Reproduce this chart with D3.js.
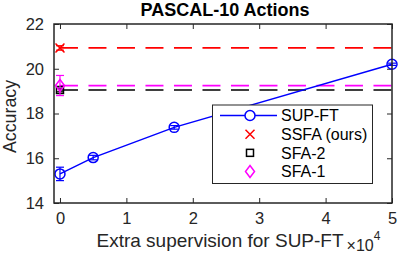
<!DOCTYPE html>
<html>
<head>
<meta charset="utf-8">
<script src="https://cdn.jsdelivr.net/npm/d3@7/dist/d3.min.js"></script>
<style>
  body { margin: 0; background: #fff; }
  text { font-family: "Liberation Sans", Arial, sans-serif; }
</style>
</head>
<body>
<svg id="chart" width="399" height="258"></svg>
<script>
// data
var supX = [0, 0.5, 1.72, 5];
var supY = [15.3, 16.03, 17.38, 20.2];
var supErr = [0.3, 0.1, 0.08, 0.05];
var ssfa = 20.93, ssfaErr = 0.1;
var sfa2 = 19.05, sfa2Err = 0.08;
var sfa1 = 19.25, sfa1Err = 0.45;
var xTicks = [0, 1, 2, 3, 4, 5];
var yTicks = [14, 16, 18, 20, 22];
var legendNames = ["SUP-FT", "SSFA (ours)", "SFA-2", "SFA-1"];

var svg = d3.select("#chart");
var pLeft = 54, pTop = 24, pRight = 392, pBottom = 203;

var x = d3.scaleLinear().domain([-0.09, 5]).range([pLeft, pRight]);
var y = d3.scaleLinear().domain([14, 22]).range([pBottom, pTop]);

// axes with inward ticks, box on
var tickLen = 5;
var fmt = d3.format("d");
svg.append("g").attr("transform", "translate(0," + pBottom + ")")
  .call(d3.axisBottom(x).tickValues(xTicks).tickFormat(fmt).tickSizeInner(-tickLen).tickSizeOuter(0).tickPadding(9.5))
  .call(function(g){ g.select(".domain").remove(); });
svg.append("g").attr("transform", "translate(0," + pTop + ")")
  .call(d3.axisTop(x).tickValues(xTicks).tickSizeInner(-tickLen).tickSizeOuter(0).tickFormat(""))
  .call(function(g){ g.select(".domain").remove(); });
svg.append("g").attr("transform", "translate(" + pLeft + ",0)")
  .call(d3.axisLeft(y).tickValues(yTicks).tickFormat(fmt).tickSizeInner(-tickLen).tickSizeOuter(0).tickPadding(10))
  .call(function(g){ g.select(".domain").remove(); });
svg.append("g").attr("transform", "translate(" + pRight + ",0)")
  .call(d3.axisRight(y).tickValues(yTicks).tickSizeInner(-tickLen).tickSizeOuter(0).tickFormat(""))
  .call(function(g){ g.select(".domain").remove(); });
svg.selectAll(".tick text").style("font-size", "16.5px").style("font-family", "'Liberation Sans', Arial, sans-serif").attr("fill", "#262626");
svg.selectAll(".tick line").attr("stroke", "#262626");

// dashed reference lines
function hline(v, color) {
  svg.append("line").attr("x1", x(0)).attr("x2", x(5))
    .attr("y1", y(v)).attr("y2", y(v))
    .attr("stroke", color).attr("stroke-width", 1.7).attr("stroke-dasharray", "18,10.5");
}
hline(ssfa, "#ff0000");
hline(sfa2, "#000000");
hline(sfa1, "#ff00ff");

function errbar(xv, yv, e, color) {
  var cx = x(xv);
  svg.append("line").attr("x1", cx).attr("x2", cx).attr("y1", y(yv - e)).attr("y2", y(yv + e))
    .attr("stroke", color).attr("stroke-width", 1.2);
  [yv - e, yv + e].forEach(function(v){
    svg.append("line").attr("x1", cx - 4).attr("x2", cx + 4).attr("y1", y(v)).attr("y2", y(v))
      .attr("stroke", color).attr("stroke-width", 1.2);
  });
}

// SUP-FT
var line = d3.line().x(function(d){ return x(d[0]); }).y(function(d){ return y(d[1]); });
svg.append("path").datum(d3.zip(supX, supY)).attr("d", line)
  .attr("fill", "none").attr("stroke", "#0000ff").attr("stroke-width", 1.5);
supX.forEach(function(v, i){ errbar(v, supY[i], supErr[i], "#0000ff"); });
svg.selectAll(".sup").data(d3.zip(supX, supY)).enter().append("circle")
  .attr("cx", function(d){ return x(d[0]); }).attr("cy", function(d){ return y(d[1]); })
  .attr("r", 5).attr("fill", "none").attr("stroke", "#0000ff").attr("stroke-width", 1.5);

// markers
function cross(g, cx, cy, s, color) {
  g.append("path").attr("d", "M" + (cx - s) + "," + (cy - s) + "L" + (cx + s) + "," + (cy + s) +
    "M" + (cx - s) + "," + (cy + s) + "L" + (cx + s) + "," + (cy - s))
    .attr("stroke", color).attr("stroke-width", 1.5).attr("fill", "none");
}
function square(g, cx, cy, s, color) {
  g.append("rect").attr("x", cx - s).attr("y", cy - s).attr("width", 2 * s).attr("height", 2 * s)
    .attr("stroke", color).attr("stroke-width", 1.5).attr("fill", "none");
}
function diamond(g, cx, cy, s, color) {
  g.append("path").attr("d", "M" + cx + "," + (cy - s) + "L" + (cx + s * 0.75) + "," + cy + "L" + cx + "," + (cy + s) + "L" + (cx - s * 0.75) + "," + cy + "Z")
    .attr("stroke", color).attr("stroke-width", 1.5).attr("fill", "none");
}
errbar(0, sfa2, sfa2Err, "#000");
square(svg, x(0), y(sfa2), 3.5, "#000");
errbar(0, sfa1, sfa1Err, "#ff00ff");
diamond(svg, x(0), y(sfa1), 6, "#ff00ff");
errbar(0, ssfa, ssfaErr, "#ff0000");
cross(svg, x(0), y(ssfa), 4.5, "#ff0000");

// box
svg.append("rect").attr("x", pLeft).attr("y", pTop).attr("width", pRight - pLeft).attr("height", pBottom - pTop)
  .attr("fill", "none").attr("stroke", "#262626").attr("stroke-width", 1.5);

// legend
var lg = svg.append("g");
lg.append("rect").attr("x", 212.5).attr("y", 105).attr("width", 160).attr("height", 78.5)
  .attr("fill", "#fff").attr("stroke", "#262626").attr("stroke-width", 1);
var ly = d3.scalePoint().domain(legendNames).range([115.5, 171.5]);
var mx = 250;
lg.append("line").attr("x1", 220).attr("x2", 277).attr("y1", ly("SUP-FT")).attr("y2", ly("SUP-FT"))
  .attr("stroke", "#0000ff").attr("stroke-width", 1.5);
lg.append("circle").attr("cx", mx).attr("cy", ly("SUP-FT")).attr("r", 5)
  .attr("fill", "#fff").attr("stroke", "#0000ff").attr("stroke-width", 1.5);
cross(lg, mx, ly("SSFA (ours)"), 4.5, "#ff0000");
square(lg, mx, ly("SFA-2"), 3.5, "#000");
diamond(lg, mx, ly("SFA-1"), 6, "#ff00ff");
lg.selectAll(".lt").data(legendNames).enter().append("text")
  .attr("x", 281).attr("y", function(d){ return ly(d) + 5.8; })
  .style("font-size", "16px").attr("fill", "#000").text(function(d){ return d; });

// labels
svg.append("text").attr("x", 225).attr("y", 16).attr("text-anchor", "middle")
  .style("font-size", "18px").style("font-weight", "bold").text("PASCAL-10 Actions");
svg.append("text").attr("transform", "translate(16," + 116.5 + ") rotate(-90)")
  .attr("text-anchor", "middle").style("font-size", "17.8px").attr("fill", "#262626").text("Accuracy");
var xl = svg.append("text").attr("x", 96.5).attr("y", 247).style("font-size", "19px").attr("fill", "#262626");
xl.append("tspan").text("Extra supervision for SUP-FT");
xl.append("tspan").attr("dx", 3).attr("dy", 3.5).style("font-size", "16px").text("\u00d710");
xl.append("tspan").attr("dy", -11).style("font-size", "12px").text("4");
</script>
</body>
</html>
